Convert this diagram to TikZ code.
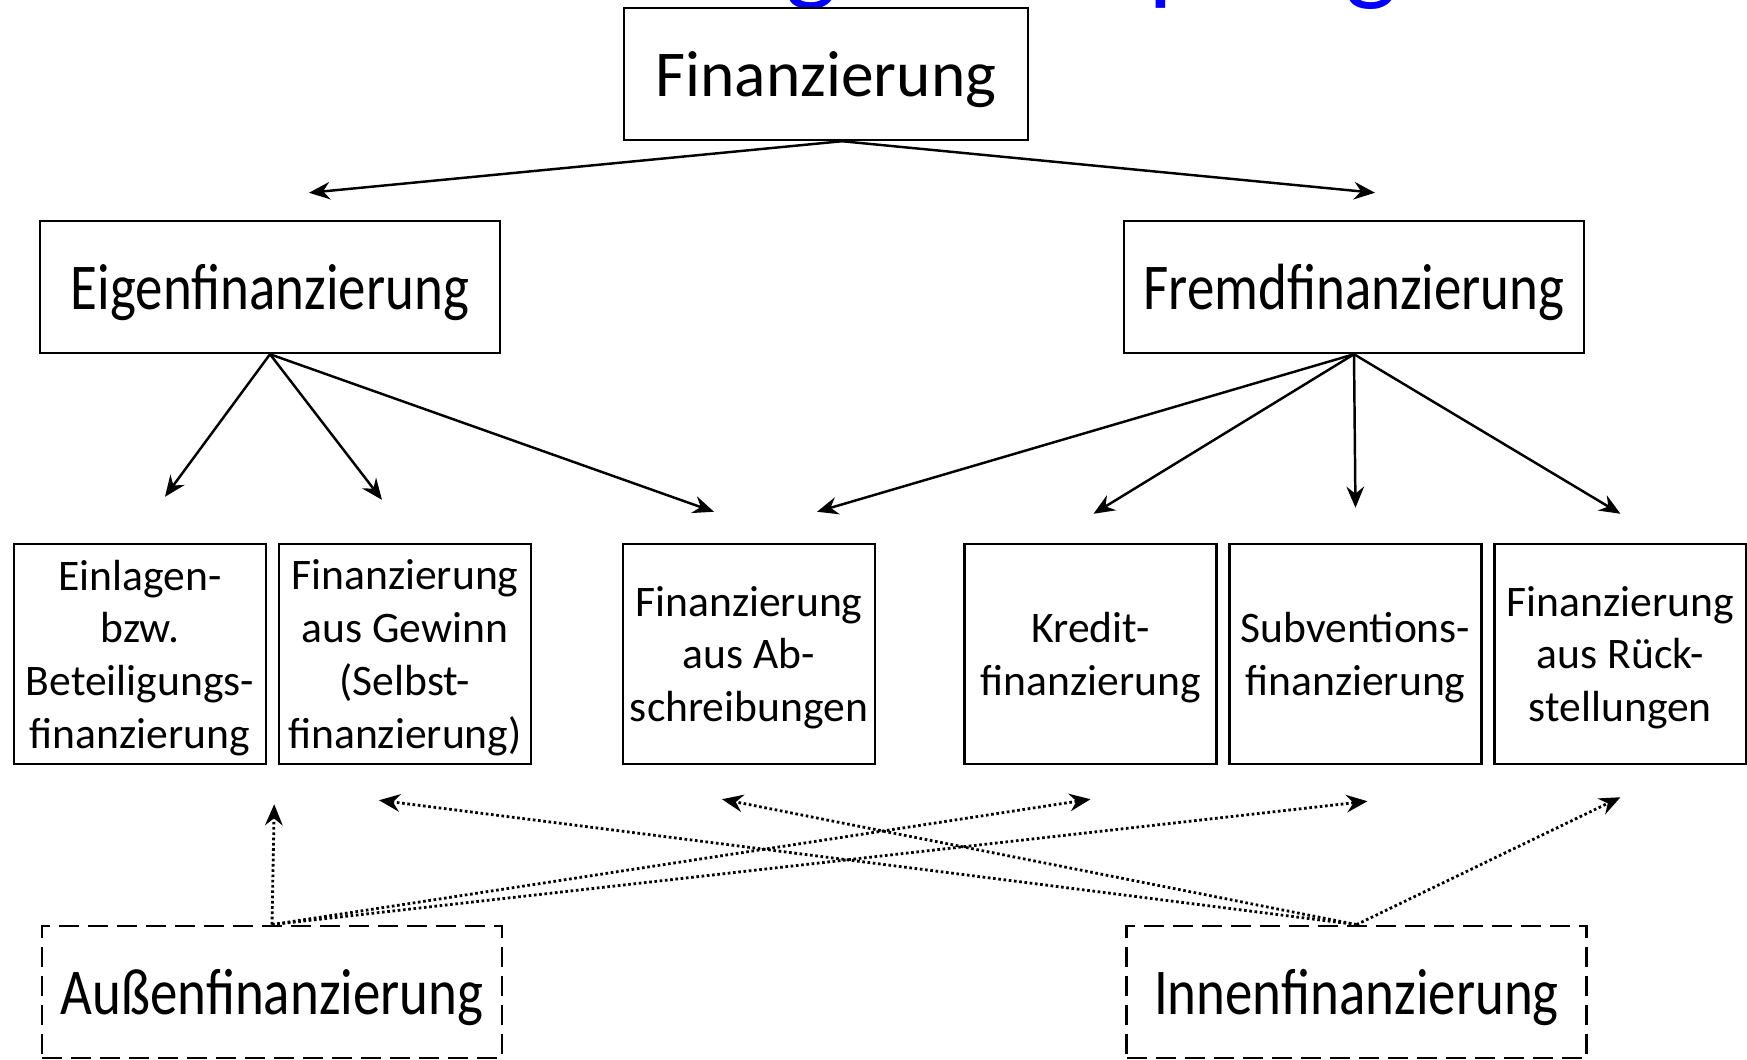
\documentclass[tikz,border=0pt]{standalone}
\usepackage{fontspec}
\setmainfont{Carlito}
\newfontfamily\narrowfont{Carlito}[FakeStretch=0.84]
\usetikzlibrary{
        positioning,
        arrows.meta
    }

\begin{document}
\begin{tikzpicture}
[box/.style={draw=black, line width=0.7pt, rectangle, align=center, inner sep=1pt, text depth=0pt},
bigbox/.style={box, minimum width=4.04cm, minimum height=1.32cm, font=\fontsize{18.6}{22}\selectfont},
widebox/.style={bigbox, minimum width=4.6cm, font=\narrowfont\fontsize{18.6}{22}\selectfont},
smallbox/.style={box, minimum width=2.52cm, minimum height=2.2cm, font=\fontsize{12.4}{15}\selectfont},
dashbox/.style={widebox, line width=0.8pt, dash pattern=on 0.2cm off 0.09cm},
arrow/.style={line width=0.7pt, -{Stealth[length=6pt, width=5pt, inset=2pt]}},
dotarrow/.style={arrow, line width=0.8pt, dash pattern=on 0.75pt off 0.75pt},
node distance=0.105cm]
    \useasboundingbox (0,0) rectangle (17.47,-10.6);
    % title, cut off at the top
    \begin{scope}
    \clip (0,0) rectangle (17.47,-10.6);
    \node (title) [anchor=base west, text=blue, font=\fontsize{31.5}{38}\selectfont, inner sep=0pt] at (3.9,0.09) {Einteilung der Kapitalgeber};
    \end{scope}

    \node (fin) [bigbox] at (8.26,-0.74) {Finanzierung};
    \node (eigen) [widebox] at (2.70,-2.87) {Eigenfinanzierung};
    \node (fremd) [widebox] at (13.54,-2.87) {Fremdfinanzierung};

    \node (einlagen) [smallbox] at (1.40,-6.54) {Einlagen-\\bzw.\\Beteiligungs-\\finanzierung};
    \node (gewinn) [smallbox, right=of einlagen] {Finanzierung\\aus Gewinn\\(Selbst-\\finanzierung)};
    \node (abschr) [smallbox] at (7.49,-6.54) {Finanzierung\\aus Ab-\\schreibungen};
    \node (kredit) [smallbox] at (10.905,-6.54) {Kredit-\\finanzierung};
    \node (subv) [smallbox, right=of kredit] {Subventions-\\finanzierung};
    \node (rueck) [smallbox, right=of subv] {Finanzierung\\aus Rück-\\stellungen};

    \node (aussen) [dashbox] at (2.72,-9.92) {Außenfinanzierung};
    \node (innen) [dashbox] at (13.565,-9.92) {Innenfinanzierung};

    % arrow ends stop short of the boxes
    \coordinate (fin-out) at ([xshift=0.16cm]fin.south);
    \coordinate (eigen-in) at ([xshift=0.39cm, yshift=0.27cm]eigen.north);
    \coordinate (fremd-in) at ([xshift=0.21cm, yshift=0.27cm]fremd.north);
    \coordinate (einlagen-in) at ([xshift=0.25cm, yshift=0.46cm]einlagen.north);
    \coordinate (gewinn-in) at ([xshift=-0.23cm, yshift=0.43cm]gewinn.north);
    \coordinate (abschr-in1) at ([xshift=-0.35cm, yshift=0.31cm]abschr.north);
    \coordinate (abschr-in2) at ([xshift=0.68cm, yshift=0.31cm]abschr.north);
    \coordinate (kredit-in) at ([xshift=0.03cm, yshift=0.29cm]kredit.north);
    \coordinate (subv-in) at ([yshift=0.35cm]subv.north);
    \coordinate (rueck-in) at ([yshift=0.29cm]rueck.north);

    \coordinate (einlagen-up) at ([xshift=0.07cm, yshift=-0.39cm]einlagen.south east);
    \coordinate (gewinn-up) at ([xshift=-0.26cm, yshift=-0.35cm]gewinn.south);
    \coordinate (abschr-up) at ([xshift=-0.27cm, yshift=-0.34cm]abschr.south);
    \coordinate (kredit-up) at ([yshift=-0.34cm]kredit.south);
    \coordinate (subv-up) at ([xshift=0.12cm, yshift=-0.36cm]subv.south);
    \coordinate (rueck-up) at ([yshift=-0.32cm]rueck.south);

    \draw[arrow] (fin-out) -- (eigen-in);
    \draw[arrow] (fin-out) -- (fremd-in);
    \foreach \target in {einlagen-in, gewinn-in, abschr-in1}
        \draw[arrow] (eigen.south) -- (\target);
    \foreach \target in {abschr-in2, kredit-in, subv-in, rueck-in}
        \draw[arrow] (fremd.south) -- (\target);

    \foreach \target in {einlagen-up, kredit-up, subv-up}
        \draw[dotarrow] (aussen.north) -- (\target);
    \foreach \target in {gewinn-up, abschr-up, rueck-up}
        \draw[dotarrow] (innen.north) -- (\target);
\end{tikzpicture}
\end{document}
